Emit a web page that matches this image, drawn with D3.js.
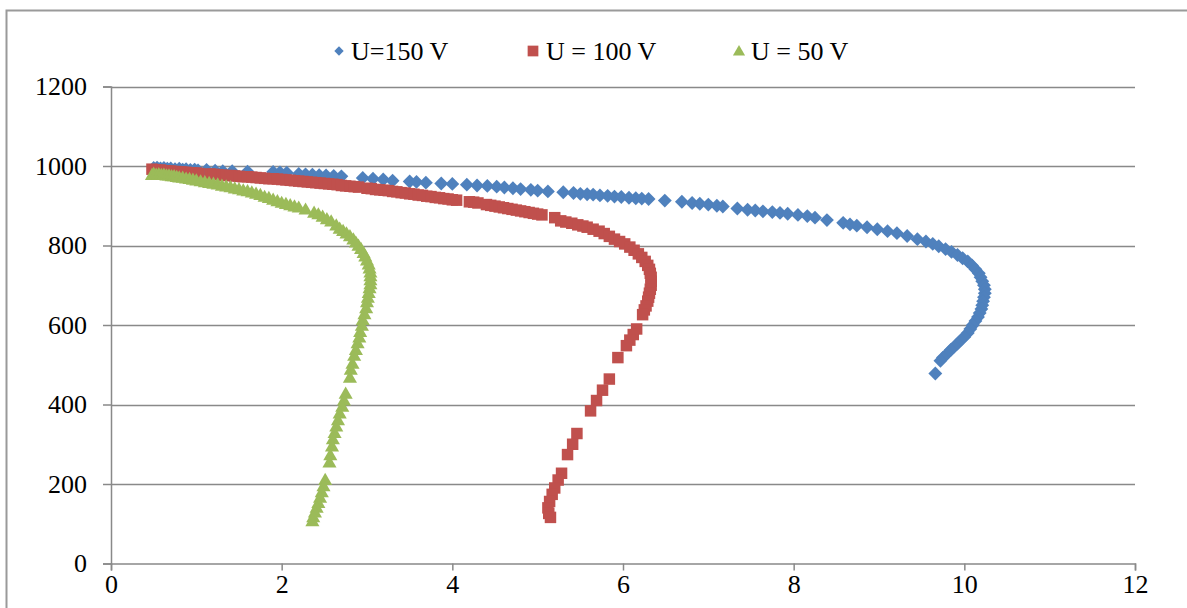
<!DOCTYPE html>
<html>
<head>
<meta charset="utf-8">
<script src="https://cdn.jsdelivr.net/npm/d3@7"></script>
<style>
  html, body { margin: 0; padding: 0; background: #fff; }
  svg { display: block; }
  svg text { font-family: "Liberation Serif", "Times New Roman", serif; fill: #000; }
</style>
</head>
<body>
<svg id="chart" width="1187" height="608"></svg>
<script>
// ---- Data ----
const seriesNames = ["U=150 V", "U = 100 V", "U = 50 V"];
const seriesColors = ["#4F81BD", "#C0504D", "#9BBB59"];
const xTicks = [0, 2, 4, 6, 8, 10, 12];
const yTicks = [0, 200, 400, 600, 800, 1000, 1200];

const u150 = [
  [0.50,995],[0.54,996],[0.58,994],[0.62,995],[0.66,993],[0.70,994],[0.75,992],[0.80,993],[0.84,991],[0.88,992],
  [0.93,990],[0.98,991],[1.02,989],[1.12,990],[1.22,988],[1.31,987],[1.42,987],[1.60,986],[1.90,985],[1.98,984],
  [2.06,983],[2.20,980],[2.28,979],[2.36,978],[2.44,977],[2.52,976],[2.61,975],[2.70,974],[2.95,970],[3.07,968],
  [3.19,966],[3.30,963],[3.50,961],[3.58,960],[3.69,958],[3.87,956],[4.00,955],[4.17,953],[4.29,951],[4.41,950],
  [4.52,948],[4.61,946],[4.71,944],[4.80,942],[4.92,940],[5.00,938],[5.12,936],[5.30,934],[5.42,932],[5.50,930],
  [5.58,929],[5.65,928],[5.73,926],[5.82,925],[5.90,923],[5.98,922],[6.07,920],[6.15,919],[6.22,918],[6.30,917],
  [6.49,913],[6.69,910],[6.81,907],[6.90,905],[7.00,903],[7.10,900],[7.17,898],[7.34,893],[7.46,890],[7.55,888],
  [7.64,886],[7.75,884],[7.84,882],[7.93,880],[8.05,877],[8.16,874],[8.25,870],[8.39,864],[8.58,857],[8.66,853],
  [8.74,850],[8.86,846],[8.98,841],[9.10,836],[9.21,831],[9.33,824],[9.45,816],[9.55,810],[9.63,804],[9.70,798],
  [9.78,791],[9.85,784],[9.92,776],[9.98,768],[10.04,760],[10.09,750],[10.13,740],[10.17,730],[10.19,720],[10.21,710],
  [10.23,700],[10.24,690],[10.24,680],[10.23,670],[10.22,660],[10.21,650],[10.20,640],[10.18,630],[10.16,620],[10.13,610],
  [10.10,600],[10.07,590],[10.04,580],[10.00,570],[9.96,562],[9.92,553],[9.88,545],[9.84,537],[9.80,528],[9.75,518],
  [9.72,510],[9.66,478]
];

const u100 = [
  [0.48,992],[0.52,990],[0.55,989],[0.58,990],[0.61,988],[0.64,988],[0.67,987],[0.70,987],[0.73,986],[0.76,986],
  [0.79,985],[0.82,985],[0.85,984],[0.88,984],[0.91,983],[0.94,983],[0.97,982],[1.00,982],[1.03,981],[1.16,980],
  [1.20,979],[1.25,978],[1.30,977],[1.35,976],[1.40,976],[1.45,975],[1.50,974],[1.55,973],[1.60,973],[1.65,972],
  [1.70,971],[1.75,970],[1.80,969],[1.85,968],[1.90,968],[1.95,967],[2.00,966],[2.05,965],[2.10,964],[2.15,963],
  [2.20,962],[2.25,961],[2.30,960],[2.35,959],[2.40,958],[2.45,957],[2.50,956],[2.55,955],[2.60,954],[2.65,953],
  [2.70,951],[2.75,950],[2.80,949],[2.85,948],[2.90,947],[3.00,944],[3.05,943],[3.10,941],[3.15,940],[3.20,939],
  [3.25,938],[3.30,936],[3.35,935],[3.40,933],[3.45,932],[3.50,930],[3.55,929],[3.60,927],[3.65,926],[3.70,924],
  [3.75,923],[3.80,921],[3.85,920],[3.90,918],[3.95,917],[4.00,915],[4.05,914],[4.20,910],[4.25,909],[4.30,907],
  [4.40,903],[4.45,901],[4.50,899],[4.55,897],[4.60,895],[4.65,893],[4.70,891],[4.75,889],[4.80,887],[4.85,885],
  [4.90,883],[4.95,881],[5.00,879],[5.05,877],[5.20,870],[5.27,862],[5.33,859],[5.40,856],[5.47,852],[5.53,849],
  [5.58,846],[5.65,841],[5.72,836],[5.78,830],[5.84,823],[5.90,816],[5.96,810],[6.02,804],[6.08,796],[6.13,788],
  [6.18,779],[6.22,770],[6.26,760],[6.29,750],[6.31,740],[6.32,730],[6.33,720],[6.33,710],[6.33,700],[6.32,690],
  [6.31,680],[6.30,670],[6.29,660],[6.27,648],[6.25,638],[6.23,626],[6.16,590],[6.12,576],[6.08,562],[6.04,548],
  [5.94,518],[5.84,464],[5.76,436],[5.69,410],[5.62,384],[5.46,327],[5.41,300],[5.35,274],[5.28,227],[5.24,210],
  [5.20,190],[5.17,174],[5.14,156],[5.12,140],[5.13,126],[5.15,116]
];

const u50 = [
  [0.48,975],[0.50,978],[0.53,976],[0.56,977],[0.59,975],[0.62,976],[0.65,974],[0.68,974],[0.71,972],[0.74,972],
  [0.77,970],[0.80,969],[0.84,968],[0.88,966],[0.92,965],[0.96,963],[1.00,961],[1.05,959],[1.10,957],[1.15,955],
  [1.20,953],[1.25,951],[1.30,948],[1.35,946],[1.40,944],[1.45,941],[1.50,939],[1.55,936],[1.60,934],[1.65,931],
  [1.70,928],[1.75,925],[1.80,920],[1.85,917],[1.90,913],[1.95,909],[2.00,905],[2.05,902],[2.10,899],[2.15,896],
  [2.20,893],[2.28,888],[2.38,880],[2.43,876],[2.48,870],[2.53,864],[2.58,858],[2.64,848],[2.68,840],[2.72,834],
  [2.76,828],[2.80,821],[2.84,813],[2.87,805],[2.90,797],[2.93,789],[2.96,779],[2.98,770],[3.00,760],[3.02,750],
  [3.03,740],[3.04,730],[3.04,720],[3.04,710],[3.04,700],[3.03,690],[3.02,678],[3.01,666],[3.00,655],[2.99,640],
  [2.97,625],[2.95,610],[2.94,596],[2.92,580],[2.91,566],[2.89,552],[2.87,535],[2.85,520],[2.83,500],[2.81,485],
  [2.80,465],[2.75,425],[2.73,408],[2.71,392],[2.68,375],[2.66,358],[2.64,342],[2.62,326],[2.60,310],[2.59,292],
  [2.57,270],[2.56,252],[2.51,208],[2.49,192],[2.47,177],[2.45,163],[2.43,150],[2.41,138],[2.39,126],[2.37,114],
  [2.36,104]
];

const seriesData = [u150, u100, u50];
const seriesSymbols = [d3.symbolSquare, d3.symbolSquare, d3.symbolTriangle];
const seriesRotate = [45, 0, 0];
const symbolSizes = [96, 132, 86];
const legendSizes = [44, 115, 64];

// ---- Layout ----
const svg = d3.select("#chart");
const plot = { left: 111, right: 1135, top: 86.5, bottom: 563.5 };
const x = d3.scaleLinear().domain([0, 12]).range([plot.left, plot.right]);
const y = d3.scaleLinear().domain([0, 1200]).range([plot.bottom, plot.top]);
const gridColor = "#898989";
const serif = '"Liberation Serif", "Times New Roman", serif';

// outer chart border (left + top visible)
svg.append("path")
  .attr("d", `M6.5,608 L6.5,10.5 L1187,10.5`)
  .attr("fill", "none").attr("stroke", "#9a9a9a").attr("stroke-width", 2);

// horizontal gridlines
svg.append("g").selectAll("line").data(yTicks.filter(d => d > 0)).join("line")
  .attr("x1", plot.left).attr("x2", plot.right)
  .attr("y1", d => Math.round(y(d)) + 0.5).attr("y2", d => Math.round(y(d)) + 0.5)
  .attr("stroke", gridColor).attr("stroke-width", 1.5);

// Y axis
const yAxis = d3.axisLeft(y).tickValues(yTicks).tickSize(8).tickPadding(16).tickFormat(d3.format("d"));
const gy = svg.append("g").attr("transform", `translate(${plot.left},0)`).call(yAxis)
  .attr("font-family", serif).attr("font-size", 26);
gy.select(".domain").attr("stroke", gridColor).attr("stroke-width", 1.5);
gy.selectAll(".tick line").attr("stroke", gridColor).attr("stroke-width", 1.5);
gy.selectAll(".tick text").attr("fill", "#000");

// X axis
const xAxis = d3.axisBottom(x).tickValues(xTicks).tickSize(7).tickPadding(4).tickFormat(d3.format("d"));
const gx = svg.append("g").attr("transform", `translate(0,${plot.bottom})`).call(xAxis)
  .attr("font-family", serif).attr("font-size", 26);
gx.select(".domain").attr("stroke", gridColor).attr("stroke-width", 1.5);
gx.selectAll(".tick line").attr("stroke", gridColor).attr("stroke-width", 1.5);
gx.selectAll(".tick text").attr("fill", "#000");

// series markers
seriesData.forEach((data, i) => {
  const sym = d3.symbol().type(seriesSymbols[i]).size(symbolSizes[i]);
  svg.append("g").selectAll("path").data(data).join("path")
    .attr("transform", d => `translate(${x(d[0])},${y(d[1])}) rotate(${seriesRotate[i]})`)
    .attr("d", sym)
    .attr("fill", seriesColors[i]);
});

// legend
const legendItems = [
  { sx: 339, tx: 351 },
  { sx: 533, tx: 546 },
  { sx: 739, tx: 751 }
];
const legendY = 51;
legendItems.forEach((it, i) => {
  svg.append("path")
    .attr("transform", `translate(${it.sx},${legendY + (i === 2 ? 1 : 0)}) rotate(${seriesRotate[i]})`)
    .attr("d", d3.symbol().type(seriesSymbols[i]).size(legendSizes[i]))
    .attr("fill", seriesColors[i]);
  svg.append("text")
    .attr("x", it.tx).attr("y", legendY)
    .attr("dy", "0.35em")
    .attr("font-family", serif)
    .attr("font-size", 26)
    .text(seriesNames[i]);
});
</script>
</body>
</html>
